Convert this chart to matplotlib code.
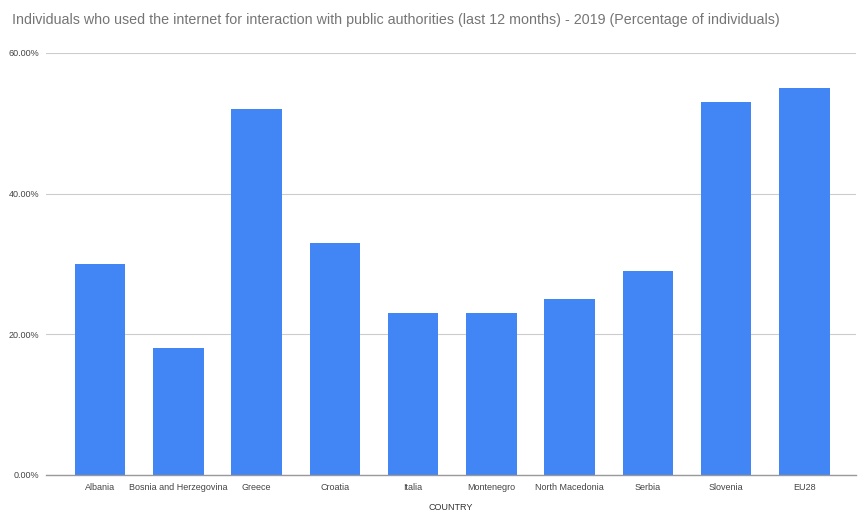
import matplotlib
matplotlib.use("Agg")
import matplotlib.pyplot as plt
from matplotlib.ticker import FuncFormatter

countries = ["Albania", "Bosnia and Herzegovina", "Greece", "Croatia", "Italia",
             "Montenegro", "North Macedonia", "Serbia", "Slovenia", "EU28"]
share = [30, 18, 52, 33, 23, 23, 25, 29, 53, 55]
y_ticks = [0, 20, 40, 60]

plt.rcParams['font.family'] = ['Liberation Sans', 'DejaVu Sans']

fig = plt.figure(figsize=(8.58, 5.12), dpi=100)
ax = fig.add_axes([46 / 858, 37 / 512, 810 / 858, 422 / 512])

x = range(len(countries))
ax.bar(x, share, width=0.645, color="#4285f4", zorder=3)

ax.set_xlim(-0.69, 9.66)
ax.set_ylim(0, 60)
ax.set_yticks(y_ticks)
ax.yaxis.set_major_formatter(FuncFormatter(lambda v, p: "%.2f%%" % v))
ax.set_xticks(list(x))
ax.set_xticklabels(countries)
ax.tick_params(axis="both", length=0, labelsize=6.5, colors="#444444")
ax.tick_params(axis="x", pad=6)
ax.tick_params(axis="y", pad=5)

ax.grid(axis="y", color="#cccccc", linewidth=0.8, zorder=0)
for s in ["top", "right", "left"]:
    ax.spines[s].set_visible(False)
ax.spines["bottom"].set_color("#999999")
ax.spines["bottom"].set_linewidth(1.0)
ax.spines["bottom"].set_zorder(4)

fig.text(12 / 858, 1 - 20 / 512,
         "Individuals who used the internet for interaction with public authorities (last 12 months) - 2019 (Percentage of individuals)",
         fontsize=10.3, color="#757575", va="center", ha="left")
fig.text(451 / 858, 1 - 507 / 512, "COUNTRY", fontsize=6.5, color="#333333",
         va="center", ha="center")

fig.savefig("out.png", dpi=100)
